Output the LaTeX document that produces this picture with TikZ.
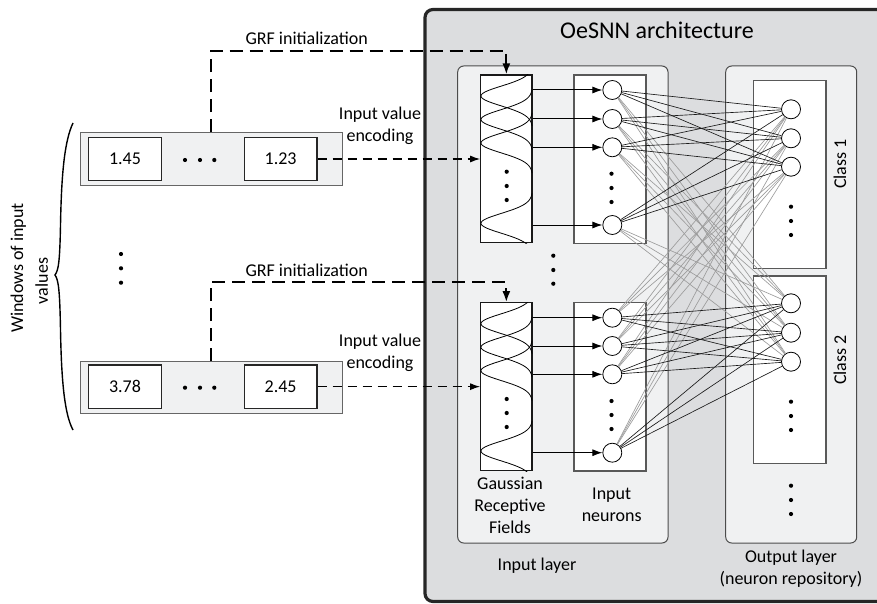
\documentclass[tikz,border=0pt]{standalone}
\usepackage{fontspec}
\setmainfont{Carlito}
\usetikzlibrary{arrows.meta}
\definecolor{archfill}{HTML}{DCDDDF}
\definecolor{panelfill}{HTML}{F0F1F2}
\definecolor{wiregray}{HTML}{9C9C9C}
\definecolor{edgedark}{HTML}{262626}
\begin{document}
\begin{tikzpicture}[x=1pt,y=-1pt,
  lbl/.style={font=\fontsize{18}{22}\selectfont, inner sep=0pt, align=center},
  titlelbl/.style={font=\fontsize{24}{28}\selectfont, inner sep=0pt},
  archbox/.style={draw=edgedark, fill=archfill, rounded corners=8pt, line width=3.2pt},
  panel/.style={draw=black!70, fill=panelfill, rounded corners=6pt, line width=1pt},
  window/.style={draw=black!60, fill=panelfill, line width=1pt, inner sep=0pt},
  valbox/.style={draw=black!85, fill=white, line width=1.1pt, inner sep=0pt, font=\fontsize{18}{22}\selectfont},
  grfbox/.style={draw=black!90, fill=white, line width=1.1pt, inner sep=0pt, minimum width=51.3pt},
  colbox/.style={draw=black!65, fill=white, line width=1.2pt, inner sep=0pt},
  neuron/.style={circle, draw=black, fill=white, line width=0.8pt, minimum size=19pt, inner sep=0pt},
  wirelight/.style={draw=wiregray, line width=0.65pt},
  wiredark/.style={draw=black!90, line width=0.65pt},
  feed/.style={draw=black, line width=1pt, -{Latex[length=10pt,width=7pt]}},
  grfline/.style={draw=black, line width=1.9pt, dash pattern=on 13pt off 7pt, -{Latex[length=11pt,width=8pt]}},
  encline/.style={draw=black, line width=1.2pt, dash pattern=on 9pt off 6pt, -{Latex[length=10pt,width=7pt]}},
  gauss/.style={line width=0.8pt},
  dot/.style={fill=black}
]
\useasboundingbox (0,0) rectangle (877,604);

% architecture container
\draw[archbox] (425,9.5) rectangle (895,601.5);
\node[titlelbl] (title) at (657,30) {OeSNN architecture};

% panels
\draw[panel] (457.7,66) rectangle (668,543);
\draw[panel] (725.7,66) rectangle (856.7,543);
\node[lbl] (inlayer) at (537,566) {Input layer};
\node[lbl] (outlayer) at (791,569) {Output layer\\(neuron repository)};

% class boxes
\node[colbox, minimum width=72.7pt, minimum height=187.6pt] (cls1) at (789.65,174.5) {};
\node[colbox, minimum width=72.7pt, minimum height=187.7pt] (cls2) at (789.65,369.85) {};
\node[lbl, rotate=90] (cls1lbl) at (840,164) {Class 1};
\node[lbl, rotate=90] (cls2lbl) at (840,360) {Class 2};

% GRF and neuron columns
\node[grfbox, minimum height=167.7pt] (ga) at (506.35,158.85) {};
\node[grfbox, minimum height=168pt] (gb) at (506.35,386.7) {};
\node[colbox, minimum width=72pt, minimum height=168.3pt] (ia) at (610,159.15) {};
\node[colbox, minimum width=72pt, minimum height=168.3pt] (ib) at (610,386.85) {};

% gaussian curves
\begin{scope}
\clip (ga.south west) rectangle (ga.north east);
\foreach \c in {96,119.5,143,223.3}
  \draw[gauss] plot[domain=-30:30, samples=61, smooth] ({532-51*(exp(0-(\x/14)^2)-0.01)/0.99},{\c+\x});
\end{scope}
\begin{scope}
\clip (gb.south west) rectangle (gb.north east);
\foreach \c in {323.7,347.2,370.7,451}
  \draw[gauss] plot[domain=-30:30, samples=61, smooth] ({532-51*(exp(0-(\x/14)^2)-0.01)/0.99},{\c+\x});
\end{scope}

% neurons
\foreach \k/\y in {1/90,2/119,3/147.3,4/225}
  \node[neuron] (na\k) at (612.3,\y) {};
\foreach \k/\y in {1/317.7,2/346,3/374.3,4/452.7}
  \node[neuron] (nb\k) at (612.3,\y) {};
\foreach \k/\y in {1/109.3,2/138.3,3/166.7}
  \node[neuron] (oa\k) at (791,\y) {};
\foreach \k/\y in {1/303.3,2/332.7,3/361.7}
  \node[neuron] (ob\k) at (791,\y) {};

% connections
\foreach \i in {1,...,4}
  \foreach \j in {1,2,3} {
    \draw[wirelight] (na\i) -- (ob\j);
    \draw[wirelight] (nb\i) -- (oa\j);
  }
\foreach \i in {1,...,4}
  \foreach \j in {1,2,3} {
    \draw[wiredark] (na\i) -- (oa\j);
    \draw[wiredark] (nb\i) -- (ob\j);
  }

% GRF -> neuron arrows
\foreach \k in {1,...,4} {
  \draw[feed] (ga.east |- na\k) -- (na\k);
  \draw[feed] (gb.east |- nb\k) -- (nb\k);
}

% dots
\foreach \y in {171.7,186,200,399,413,427} \fill[dot] (506.7,\y) circle (2.1);
\foreach \y in {173.7,188,202,401,415,429} \fill[dot] (611.5,\y) circle (2.1);
\foreach \y in {255.7,270,283.7} \fill[dot] (553.3,\y) circle (2.1);
\foreach \y in {206.7,221,235,401.7,416,430,485.7,500,514} \fill[dot] (791,\y) circle (2.1);
\foreach \y in {254,268.3,282.7} \fill[dot] (121,\y) circle (2.1);
\node[lbl] (glbl) at (510,505.5) {Gaussian\\Receptive\\Fields};
\node[lbl] (nlbl) at (611.7,505) {Input\\neurons};

% windows of input values
\node[window, minimum width=262.3pt, minimum height=52.3pt] (wa) at (211.15,158.85) {};
\node[window, minimum width=262.3pt, minimum height=51.6pt] (wb) at (211.15,387.5) {};
\node[valbox, minimum width=73.4pt, minimum height=43.4pt] (wa1) at (125,159) {1.45};
\node[valbox, minimum width=72.7pt, minimum height=43.4pt] (wa2) at (280.65,159) {1.23};
\node[valbox, minimum width=73.4pt, minimum height=43.3pt] (wb1) at (125,386.65) {3.78};
\node[valbox, minimum width=72.7pt, minimum height=43.3pt] (wb2) at (280.65,386.65) {2.45};
\foreach \x in {185,200,214.3} {
  \fill[dot] (\x,160) circle (2.1);
  \fill[dot] (\x,387.7) circle (2.1);
}

% brace and its label
\draw[line width=1.4pt] (73,123) .. controls (65,140) and (61.5,170) .. (60.5,225)
  .. controls (59.8,262) and (58.5,270) .. (55,275)
  .. controls (58.5,280) and (59.8,290) .. (60.5,330)
  .. controls (61.5,385) and (65,415) .. (73,430);
\node[lbl, rotate=90] (winlbl1) at (18.3,268) {Windows of input};
\node[lbl, rotate=90] (winlbl2) at (41.7,281) {values};

% GRF initialization lines
\coordinate (ca) at (211.15,50.7);
\coordinate (cb) at (211.15,282.3);
\draw[grfline] (wa.north) -- (ca) -| (ga.north);
\draw[grfline] (wb.north) -- (cb) -| (gb.north);
\node[lbl] (grflbla) at (306.7,38) {GRF initialization};
\node[lbl] (grflblb) at (306.7,270) {GRF initialization};

% input value encoding lines
\draw[encline] (wa2.east) -- (ga.west |- wa2.east);
\draw[encline] (wb2.east) -- (gb.west |- wb2.east);
\node[lbl] (enclbla) at (380,126) {Input value\\encoding};
\node[lbl] (enclblb) at (380,353) {Input value\\encoding};
\end{tikzpicture}
\end{document}
